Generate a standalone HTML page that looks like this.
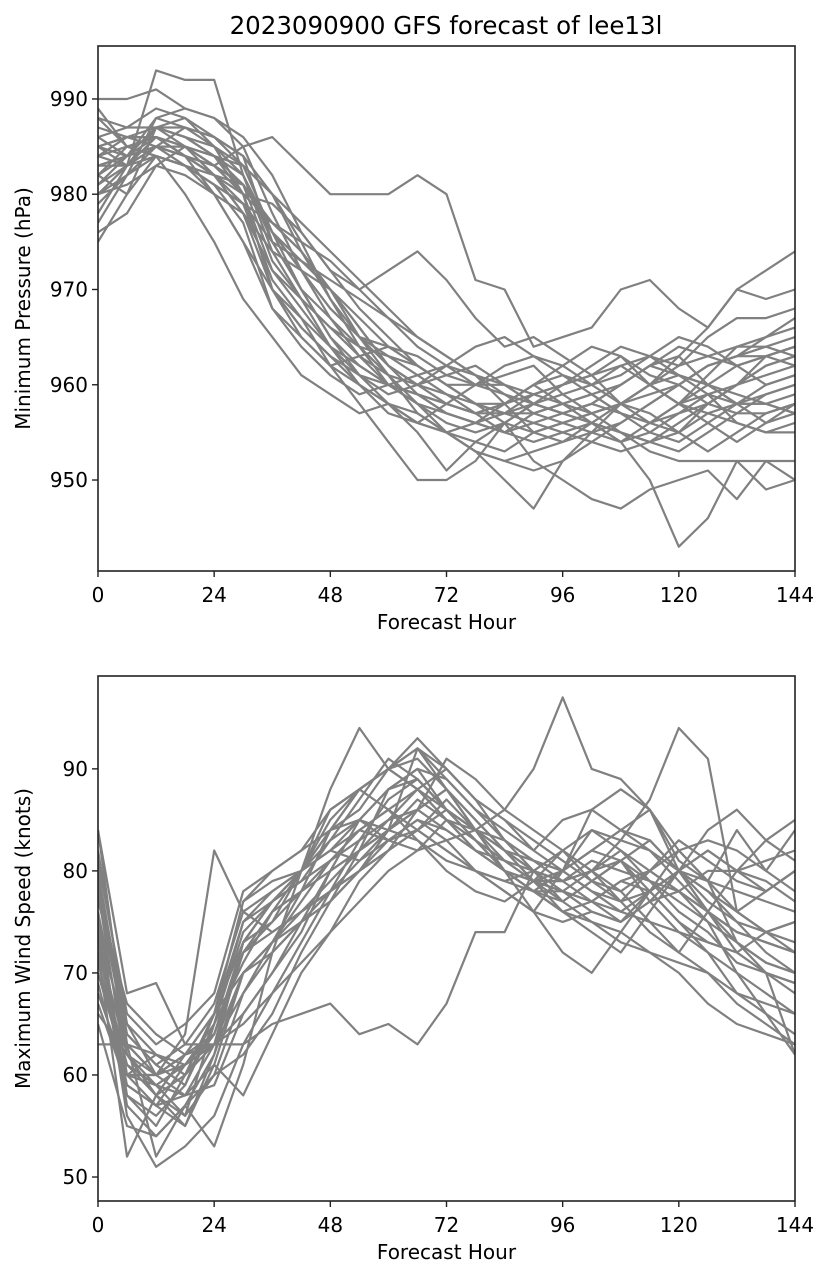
<!DOCTYPE html>
<html><head><meta charset="utf-8">
<style>
html,body{margin:0;padding:0;background:#fff;}
svg{display:block;font-family:"DejaVu Sans","Liberation Sans",sans-serif;}
</style></head>
<body>
<svg id="fig" width="830" height="1279" viewBox="0 0 830 1279" xmlns="http://www.w3.org/2000/svg">
<rect width="830" height="1279" fill="#fff"/>
<text x="446" y="34" font-size="24.5" text-anchor="middle">2023090900 GFS forecast of lee13l</text>
</svg>
<script>
const hours=[0,6,12,18,24,30,36,42,48,54,60,66,72,78,84,90,96,102,108,114,120,126,132,138,144];
const xTicks=[0,24,48,72,96,120,144];
const pTicks=[950,960,970,980,990];
const wTicks=[50,60,70,80,90];
const pressure=[
[990,990,991,989,988,985,978,972,968,965,962,960,959,958,957,958,959,960,962,963,962,963,964,965,966],
[975,980,987,987,986,984,975,970,965,962,960,958,957,956,955,956,957,958,957,956,955,957,958,958,959],
[985,983,993,992,992,982,975,970,967,964,963,961,959,957,958,960,958,956,954,955,957,958,960,962,963],
[982,984,986,984,983,985,986,983,980,980,980,982,980,971,970,964,965,966,970,971,968,966,970,972,974],
[988,985,984,980,975,969,965,961,959,957,958,955,951,954,956,952,950,948,947,949,950,951,948,952,950],
[980,982,988,989,988,986,982,976,972,968,965,962,960,958,956,955,956,957,958,960,963,966,970,969,970],
[984,986,985,983,980,975,968,965,962,960,958,956,955,953,952,953,954,955,956,958,960,962,963,963,964],
[978,983,987,986,984,980,977,975,973,970,967,964,962,960,959,958,957,956,955,954,953,955,957,957,958],
[986,987,989,988,985,980,970,967,962,958,954,950,950,952,956,958,957,956,954,950,943,946,952,949,950],
[983,984,985,984,982,978,972,969,966,964,961,960,958,957,958,959,960,961,963,960,958,960,962,963,964],
[987,986,986,985,983,980,972,968,964,960,957,956,958,960,962,963,962,960,958,956,957,959,960,962,963],
[981,983,984,983,981,979,975,973,971,969,967,965,963,961,960,958,957,958,960,962,964,963,962,963,964],
[985,984,987,986,984,982,976,970,965,961,958,957,955,954,953,955,956,957,958,957,955,953,955,957,958],
[979,982,985,984,983,981,976,972,967,963,960,958,956,955,956,958,960,962,964,963,961,960,958,956,957],
[984,985,984,983,981,977,968,964,961,959,960,961,962,964,965,963,961,960,961,963,965,964,962,960,961],
[976,978,983,985,984,983,980,977,974,971,968,965,963,961,958,955,954,956,958,960,962,965,967,967,968],
[988,987,987,985,982,978,970,966,963,961,960,959,958,957,957,956,955,954,953,954,956,958,960,963,962],
[982,985,986,984,982,980,979,976,972,970,972,974,971,967,964,965,963,961,958,959,960,958,957,959,960],
[986,984,985,984,983,980,970,965,962,963,964,962,960,960,961,962,959,957,955,954,955,958,960,961,962],
[980,981,983,982,980,978,974,972,970,966,962,960,961,962,960,958,957,958,960,962,961,959,958,958,957],
[983,983,986,985,984,981,973,969,966,963,961,958,955,953,950,947,952,955,958,960,958,956,954,956,958],
[977,982,984,983,982,981,977,974,970,965,963,962,960,958,958,960,961,959,957,956,958,961,964,964,963],
[985,986,986,984,982,979,971,967,964,962,960,959,958,957,955,954,955,956,955,953,952,952,952,952,952],
[981,984,988,987,985,982,974,969,964,961,959,960,962,961,959,957,956,955,954,956,958,959,956,955,956],
[984,983,985,985,983,981,976,972,968,965,964,963,961,960,960,959,958,957,958,960,961,960,959,958,957],
[983,984,987,988,986,983,976,973,970,967,964,962,960,958,957,957,958,959,957,955,954,956,958,960,961],
[989,985,986,984,980,975,970,966,963,960,958,956,955,956,957,959,960,961,962,960,958,957,956,955,955],
[982,980,984,983,981,979,977,974,970,966,962,959,957,956,958,960,962,964,963,961,960,962,963,965,967],
[985,986,987,986,985,983,980,975,969,964,960,959,957,956,955,957,958,959,960,962,963,960,958,959,960],
[980,983,985,987,986,984,980,974,969,965,961,957,955,953,952,951,952,954,956,958,960,962,963,964,965]
];
const wind=[
[84,68,69,63,63,66,70,75,80,85,88,89,86,84,82,80,78,77,76,75,74,73,72,70,68],
[82,65,62,60,64,72,76,78,81,84,86,88,90,87,83,81,79,80,82,80,78,76,74,73,72],
[80,62,58,55,62,73,77,80,84,88,90,91,88,84,80,78,76,77,79,78,75,72,70,68,66],
[78,60,60,64,82,76,74,76,78,80,84,92,89,86,84,82,85,86,84,82,80,79,78,77,76],
[76,58,55,60,66,73,75,80,88,94,90,88,85,82,80,79,80,82,84,83,80,76,73,71,70],
[74,56,51,53,56,63,68,73,78,83,87,89,86,84,81,79,78,77,79,80,78,75,70,66,62],
[72,52,58,62,66,70,72,75,78,80,82,84,87,84,86,90,97,90,89,86,80,76,74,73,72],
[70,60,62,61,63,68,72,75,77,80,83,82,85,84,83,81,80,84,83,87,94,91,76,78,80],
[68,60,57,58,59,66,70,74,80,82,84,86,88,85,82,79,77,79,81,79,78,76,72,70,69],
[66,62,60,62,63,63,65,66,67,64,65,63,67,74,74,80,82,79,77,78,80,82,80,78,80],
[63,63,60,62,66,77,79,80,82,85,83,84,82,80,78,76,80,82,84,86,81,79,84,80,78],
[74,64,61,59,65,71,76,80,84,86,90,93,90,87,85,82,80,78,76,78,80,82,80,79,77],
[79,63,62,60,63,72,74,76,78,81,84,87,85,82,80,76,72,70,74,78,80,77,75,72,70],
[71,61,58,56,65,75,78,80,82,81,83,85,83,80,78,76,75,76,75,78,82,79,76,74,72],
[77,67,64,62,63,65,68,71,74,77,80,82,83,84,82,80,79,77,75,77,80,84,86,83,81],
[69,58,56,59,66,77,80,82,86,88,86,84,82,80,79,78,80,82,81,77,74,72,68,66,64],
[73,62,59,61,64,73,77,80,85,88,90,92,88,84,80,78,76,75,74,72,70,67,65,64,63],
[81,66,63,65,68,78,80,82,84,85,84,83,81,80,79,80,82,80,78,75,72,70,68,67,66],
[75,57,54,57,62,70,73,75,77,80,82,84,86,84,82,81,80,78,77,80,83,81,79,78,80],
[67,59,57,55,61,70,73,76,79,82,84,86,88,85,82,79,76,74,72,76,80,78,75,74,73],
[80,64,61,63,67,76,78,80,83,85,88,90,89,86,83,80,77,75,73,72,71,70,67,65,63],
[72,61,59,58,63,70,73,77,81,84,86,83,80,78,77,79,82,84,82,79,76,74,71,70,69],
[78,63,60,62,64,72,75,78,80,82,85,86,84,82,81,79,78,80,81,78,75,73,72,74,75],
[70,60,60,61,63,73,77,79,83,87,91,89,86,83,80,78,78,76,75,77,78,80,80,81,82],
[76,62,58,60,66,75,77,79,81,83,85,88,86,83,81,80,79,80,83,82,79,76,74,73,72],
[73,59,57,61,65,74,77,80,82,84,83,85,84,82,80,79,79,81,80,79,77,75,73,71,70],
[65,55,54,57,53,61,72,80,86,88,90,88,85,83,80,78,77,79,81,83,80,78,76,74,75],
[79,65,60,58,61,58,64,70,74,79,82,86,91,89,86,84,82,80,77,74,72,76,80,83,85],
[84,63,52,57,60,68,73,78,84,88,90,92,90,87,85,83,81,79,78,80,82,83,82,80,84],
[71,60,59,56,60,62,66,72,77,82,88,90,86,83,80,78,80,86,88,86,82,79,73,70,62]
];
const NS='http://www.w3.org/2000/svg';
const svg=document.getElementById('fig');
function mk(tag,attrs,parent){const e=document.createElementNS(NS,tag);for(const k in attrs)e.setAttribute(k,attrs[k]);(parent||svg).appendChild(e);return e;}
function panel(cfg){
  const {top,bottom,vmin,vmax,series,yTicks,ylabel,prefix}=cfg;
  const L=98,R=795;
  const xs=h=>L+(h-0)/(144-0)*(R-L);
  const ys=v=>bottom-(v-vmin)/(vmax-vmin)*(bottom-top);
  const g=mk('g',{});
  
  
  const clip=mk('clipPath',{id:prefix+'clip'},g);
  mk('rect',{x:L,y:top,width:R-L,height:bottom-top},clip);
  const lg=mk('g',{'clip-path':'url(#'+prefix+'clip)'},g);
  series.forEach((s,i)=>{
    const d=s.map((v,j)=>(j?'L':'M')+xs(hours[j]).toFixed(1)+','+ys(v).toFixed(1)).join('');
    const p=mk('path',{d:d,fill:'none',stroke:'#808080','stroke-width':2.2,'stroke-linejoin':'round'},lg);
    
    
  });
  const frame=mk('rect',{x:L,y:top,width:R-L,height:bottom-top,fill:'none',stroke:'#222','stroke-width':1.6},g);
  
  
  xTicks.forEach(t=>{
    const x=xs(t);
    mk('line',{x1:x,x2:x,y1:bottom,y2:bottom+6,stroke:'#222','stroke-width':1.4},g);
    const tx=mk('text',{x:x,y:bottom+31,'font-size':20,'text-anchor':'middle'},g);
    tx.textContent=t;
    
    
  });
  yTicks.forEach(t=>{
    const y=ys(t);
    mk('line',{x1:L-6,x2:L,y1:y,y2:y,stroke:'#222','stroke-width':1.4},g);
    const tx=mk('text',{x:L-10,y:y+7,'font-size':20,'text-anchor':'end'},g);
    tx.textContent=t;
    
    
  });
  const xl=mk('text',{x:(L+R)/2,y:bottom+58,'font-size':20,'text-anchor':'middle'},g);
  xl.textContent='Forecast Hour';
  
  
  const cy=(top+bottom)/2;
  const yl=mk('text',{x:30,y:cy,'font-size':20,'text-anchor':'middle',transform:'rotate(-90 30 '+cy+')'},g);
  yl.textContent=ylabel;
  
  
}
panel({top:46,bottom:571,vmin:940.45,vmax:995.56,series:pressure,yTicks:pTicks,ylabel:'Minimum Pressure (hPa)',prefix:'pressure'});
panel({top:676,bottom:1201,vmin:47.65,vmax:99.1,series:wind,yTicks:wTicks,ylabel:'Maximum Wind Speed (knots)',prefix:'wind'});
</script>
</body></html>
